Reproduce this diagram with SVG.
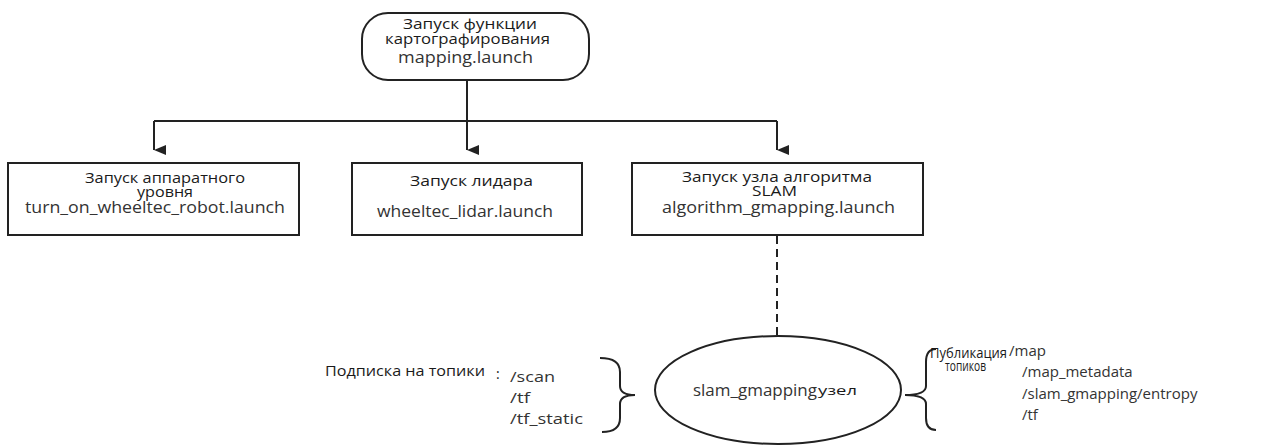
<svg xmlns="http://www.w3.org/2000/svg" width="1265" height="445" viewBox="0 0 1265 445">
<style>
.box{fill:#fff;stroke:#222;stroke-width:2}
.ln{fill:none;stroke:#222;stroke-width:2}
.ru{font-family:"Open Sans","Noto Sans",sans-serif;font-size:14.5px;fill:#1a1a1a;text-anchor:middle}
.en{font-family:"Open Sans","Noto Sans",sans-serif;font-size:16px;fill:#333;text-anchor:middle}
.lbl{font-family:"Open Sans","Noto Sans",sans-serif;font-size:14px;fill:#1a1a1a}
.tp{font-family:"Open Sans","Noto Sans",sans-serif;font-size:15px;fill:#333}
</style>
<defs>
<marker id="ah" viewBox="0 0 10 12" refX="5" refY="12" markerWidth="10" markerHeight="12" markerUnits="userSpaceOnUse" orient="auto-start-reverse">
<path d="M0,0 L10,0 L5,12 Z" fill="#222"/>
</marker>
</defs>
<rect width="1265" height="445" fill="#fff"/>
<g id="connectors">
<path class="ln" d="M467,80 V121"/>
<path class="ln" d="M154,121 H777"/>
<path class="ln" d="M154,121 V150" marker-end="url(#ah)"/>
<path class="ln" d="M467,121 V150" marker-end="url(#ah)"/>
<path class="ln" d="M777,121 V150" marker-end="url(#ah)"/>
<path class="ln" d="M777,236 V336" stroke-dasharray="8,5" stroke-width="1.5"/>
</g>
<g id="n-mapping">
<rect class="box" x="362" y="13" width="227" height="67" rx="26" ry="26"/>
<text class="ru" x="470" y="29" textLength="134" lengthAdjust="spacingAndGlyphs">Запуск функции</text>
<text class="ru" x="467.5" y="44" textLength="165" lengthAdjust="spacingAndGlyphs">картографирования</text>
<text class="en" x="465.5" y="63" textLength="135" lengthAdjust="spacingAndGlyphs">mapping.launch</text>
</g>
<g id="n-robot">
<rect class="box" x="8" y="163" width="291" height="72"/>
<text class="ru" x="165" y="183" textLength="160" lengthAdjust="spacingAndGlyphs">Запуск аппаратного</text>
<text class="ru" x="165" y="197" textLength="56" lengthAdjust="spacingAndGlyphs">уровня</text>
<text class="en" x="155" y="213" textLength="260" lengthAdjust="spacingAndGlyphs">turn_on_wheeltec_robot.launch</text>
</g>
<g id="n-lidar">
<rect class="box" x="352" y="163" width="230" height="72"/>
<text class="ru" x="471.5" y="186" textLength="123" lengthAdjust="spacingAndGlyphs">Запуск лидара</text>
<text class="en" x="465" y="217" textLength="176" lengthAdjust="spacingAndGlyphs">wheeltec_lidar.launch</text>
</g>
<g id="n-slam">
<rect class="box" x="632" y="163" width="291" height="72"/>
<text class="ru" x="777" y="182" textLength="190" lengthAdjust="spacingAndGlyphs">Запуск узла алгоритма</text>
<text class="ru" x="774.5" y="196" textLength="45" lengthAdjust="spacingAndGlyphs">SLAM</text>
<text class="en" x="778.5" y="213" textLength="233" lengthAdjust="spacingAndGlyphs">algorithm_gmapping.launch</text>
</g>
<g id="n-gmapping">
<ellipse class="box" cx="778" cy="390" rx="123" ry="54"/>
<text x="693" y="396" font-family="'Open Sans','Noto Sans',sans-serif" font-size="15.5" fill="#333" textLength="124" lengthAdjust="spacingAndGlyphs">slam_gmapping</text>
<text x="818" y="395" font-family="'Open Sans','Noto Sans',sans-serif" font-size="13" fill="#1a1a1a" textLength="39" lengthAdjust="spacingAndGlyphs">узел</text>
</g>
<g id="subscribe">
<text class="lbl" x="325" y="376" textLength="160" lengthAdjust="spacingAndGlyphs">Подписка на топики</text>
<text class="lbl" x="496" y="379">:</text>
<text class="tp" x="510" y="382" textLength="45" lengthAdjust="spacingAndGlyphs">/scan</text>
<text class="tp" x="510" y="403" textLength="20" lengthAdjust="spacingAndGlyphs">/tf</text>
<text class="tp" x="510" y="424" textLength="73" lengthAdjust="spacingAndGlyphs">/tf_static</text>
<path class="ln" stroke-width="1.6" d="M600,358 Q620,358 620,372 L620,386 Q620,395 635,395 Q620,395 620,404 L620,418 Q620,432 602,432"/>
</g>
<g id="publish">
<path class="ln" stroke-width="1.6" d="M936,349 Q926,349 926,362 L926,386 Q926,395 905,395 Q926,395 926,404 L926,418 Q926,430 936,430"/>
<text class="lbl" x="930" y="358" textLength="77" lengthAdjust="spacingAndGlyphs">Публикация</text>
<text class="lbl" x="945" y="371" textLength="41" lengthAdjust="spacingAndGlyphs">топиков</text>
<text class="tp" x="1009" y="356">/map</text>
<text class="tp" x="1022" y="377">/map_metadata</text>
<text class="tp" x="1022" y="399">/slam_gmapping/entropy</text>
<text class="tp" x="1022" y="420">/tf</text>
</g>
</svg>
